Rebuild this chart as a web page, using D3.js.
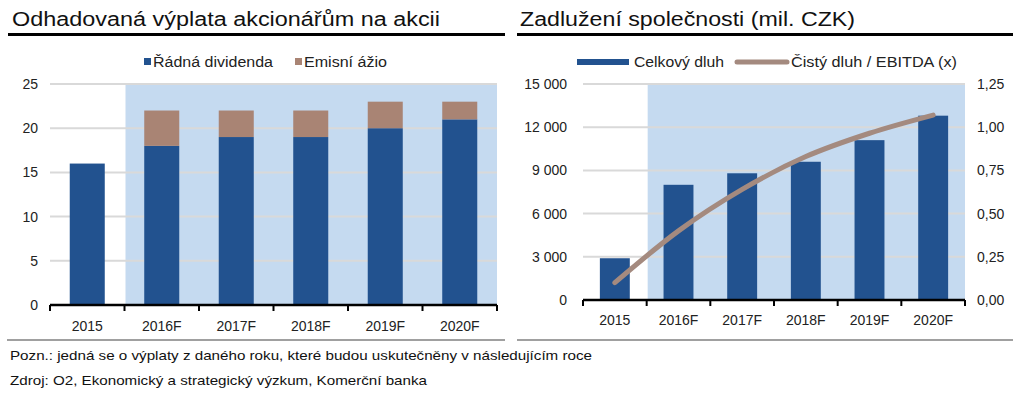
<!DOCTYPE html>
<html><head><meta charset="utf-8">
<script src="https://cdn.jsdelivr.net/npm/d3@7"></script>
<style>
html,body{margin:0;padding:0;background:#fff;}
svg{display:block;font-family:"Liberation Sans",Arial,sans-serif;}
</style></head><body>
<svg id="c" width="1024" height="399"></svg>
<script>
// ---- data ----
const categories = ["2015","2016F","2017F","2018F","2019F","2020F"];
const dividend = [16, 18, 19, 19, 20, 21];
const premium  = [0, 4, 3, 3, 3, 2];
const leftTicks = [0,5,10,15,20,25];
const debt = [2900, 8000, 8800, 9600, 11100, 12800];
const ratio = [0.10, 0.40, 0.64, 0.83, 0.965, 1.07];
const debtTicks = [0,3000,6000,9000,12000,15000];
const ratioTicks = [0,0.25,0.5,0.75,1.0,1.25];

const BLUE="#22528f", BROWN="#a98474", LINE="#a48a7f", SHADE="#c5daf0", GRID="#d9d9d9";
const svg = d3.select("#c");

// titles & rules
svg.append("text").attr("x",12).attr("y",26).attr("font-size",20).attr("fill","#111")
  .attr("textLength",428).attr("lengthAdjust","spacingAndGlyphs")
  .text("Odhadovaná výplata akcionářům na akcii");
svg.append("text").attr("x",520).attr("y",26).attr("font-size",20).attr("fill","#111")
  .attr("textLength",335).attr("lengthAdjust","spacingAndGlyphs")
  .text("Zadlužení společnosti (mil. CZK)");
svg.append("rect").attr("x",8).attr("y",33).attr("width",497).attr("height",3).attr("fill","#000");
svg.append("rect").attr("x",517).attr("y",33).attr("width",496).attr("height",3).attr("fill","#000");
svg.append("rect").attr("x",7).attr("y",339).attr("width",498).attr("height",2).attr("fill","#a0a0a0");
svg.append("rect").attr("x",517).attr("y",339).attr("width",496).attr("height",2).attr("fill","#a0a0a0");

// footer
svg.append("text").attr("x",10).attr("y",360).attr("font-size",13).attr("fill","#111")
  .attr("textLength",582).attr("lengthAdjust","spacingAndGlyphs")
  .text("Pozn.: jedná se o výplaty z daného roku, které budou uskutečněny v následujícím roce");
svg.append("text").attr("x",10).attr("y",385).attr("font-size",13).attr("fill","#111")
  .attr("textLength",417).attr("lengthAdjust","spacingAndGlyphs")
  .text("Zdroj: O2, Ekonomický a strategický výzkum, Komerční banka");

function drawAxisX(g, x, y0, labelY){
  const ax = g.append("g");
  ax.append("line").attr("x1",x.range()[0]).attr("x2",x.range()[1]).attr("y1",y0).attr("y2",y0)
    .attr("stroke","#000").attr("stroke-width",2.5);
  const bounds = categories.map(c=>x(c)).concat([x.range()[1]]);
  ax.selectAll("line.t").data(bounds).join("line").attr("class","t")
    .attr("x1",d=>d).attr("x2",d=>d).attr("y1",y0).attr("y2",y0+6)
    .attr("stroke","#000").attr("stroke-width",2);
  ax.selectAll("text").data(categories).join("text")
    .attr("x",d=>x(d)+x.bandwidth()/2).attr("y",labelY).attr("text-anchor","middle")
    .attr("font-size",14).attr("fill","#222").text(d=>d);
}

// ---- left chart ----
{
  const g = svg.append("g");
  const x = d3.scaleBand().domain(categories).range([50,497]).paddingInner(0).paddingOuter(0);
  const y = d3.scaleLinear().domain([0,25]).range([305,84]);
  g.append("rect").attr("x",x("2016F")+1).attr("y",y(25)).attr("width",x.range()[1]-x("2016F")-1)
    .attr("height",y(0)-y(25)).attr("fill",SHADE);
  g.selectAll("line.g").data(leftTicks.filter(d=>d>0)).join("line").attr("class","g")
    .attr("x1",50).attr("x2",497).attr("y1",d=>y(d)).attr("y2",d=>y(d))
    .attr("stroke",GRID).attr("stroke-width",2);
  g.selectAll("text.yl").data(leftTicks).join("text").attr("class","yl")
    .attr("x",38).attr("y",d=>y(d)+5).attr("text-anchor","end").attr("font-size",14).attr("fill","#222")
    .text(d=>d);
  const bw = x.bandwidth()*0.47;
  const off = (x.bandwidth()-bw)/2;
  g.selectAll("rect.d").data(categories).join("rect").attr("class","d")
    .attr("x",d=>x(d)+off).attr("width",bw)
    .attr("y",(d,i)=>y(dividend[i])).attr("height",(d,i)=>y(0)-y(dividend[i])).attr("fill",BLUE);
  g.selectAll("rect.p").data(categories).join("rect").attr("class","p")
    .attr("x",d=>x(d)+off).attr("width",bw)
    .attr("y",(d,i)=>y(dividend[i]+premium[i])).attr("height",(d,i)=>y(dividend[i])-y(dividend[i]+premium[i]))
    .attr("fill",BROWN);
  drawAxisX(g, x, 305, 331);
  // legend
  g.append("rect").attr("x",144).attr("y",58).attr("width",7).attr("height",7).attr("fill",BLUE);
  g.append("text").attr("x",153).attr("y",67).attr("font-size",14).attr("fill","#222")
    .attr("textLength",120).attr("lengthAdjust","spacingAndGlyphs").text("Řádná dividenda");
  g.append("rect").attr("x",295).attr("y",58).attr("width",7).attr("height",7).attr("fill",BROWN);
  g.append("text").attr("x",304).attr("y",67).attr("font-size",14).attr("fill","#222")
    .attr("textLength",83).attr("lengthAdjust","spacingAndGlyphs").text("Emisní ážio");
}

// ---- right chart ----
{
  const g = svg.append("g");
  const x = d3.scaleBand().domain(categories).range([583,965]).paddingInner(0).paddingOuter(0);
  const y = d3.scaleLinear().domain([0,15000]).range([300,84]);
  const y2 = d3.scaleLinear().domain([0,1.25]).range([300,84]);
  g.append("rect").attr("x",x("2016F")+1).attr("y",y(15000)).attr("width",x.range()[1]-x("2016F")-1)
    .attr("height",y(0)-y(15000)).attr("fill",SHADE);
  g.selectAll("line.g").data(debtTicks.filter(d=>d>0)).join("line").attr("class","g")
    .attr("x1",583).attr("x2",965).attr("y1",d=>y(d)).attr("y2",d=>y(d))
    .attr("stroke",GRID).attr("stroke-width",2);
  const fmt = d => d3.format(",")(d).replace(/,/g," ");
  g.selectAll("text.yl").data(debtTicks).join("text").attr("class","yl")
    .attr("x",567).attr("y",d=>y(d)+5).attr("text-anchor","end").attr("font-size",14).attr("fill","#222")
    .text(fmt);
  g.selectAll("text.yr").data(ratioTicks).join("text").attr("class","yr")
    .attr("x",977).attr("y",d=>y2(d)+5).attr("text-anchor","start").attr("font-size",14).attr("fill","#222")
    .text(d=>d3.format(".2f")(d).replace(".",","));
  const bw = x.bandwidth()*0.47;
  const off = (x.bandwidth()-bw)/2;
  g.selectAll("rect.d").data(categories).join("rect").attr("class","d")
    .attr("x",d=>x(d)+off).attr("width",bw)
    .attr("y",(d,i)=>y(debt[i])).attr("height",(d,i)=>y(0)-y(debt[i])).attr("fill",BLUE);
  drawAxisX(g, x, 300, 325);
  const line = d3.line().x((d,i)=>x(categories[i])+x.bandwidth()/2).y(d=>y2(d)).curve(d3.curveMonotoneX);
  g.append("path").datum(ratio).attr("d",line).attr("fill","none").attr("stroke",LINE)
    .attr("stroke-width",5).attr("stroke-linecap","round");
  // legend
  g.append("rect").attr("x",577).attr("y",59).attr("width",52).attr("height",6).attr("fill",BLUE);
  g.append("text").attr("x",634).attr("y",67).attr("font-size",14).attr("fill","#222")
    .attr("textLength",90).attr("lengthAdjust","spacingAndGlyphs").text("Celkový dluh");
  g.append("line").attr("x1",737).attr("x2",787).attr("y1",62).attr("y2",62).attr("stroke",LINE)
    .attr("stroke-width",5).attr("stroke-linecap","round");
  g.append("text").attr("x",791).attr("y",67).attr("font-size",14).attr("fill","#222")
    .attr("textLength",166).attr("lengthAdjust","spacingAndGlyphs").text("Čistý dluh / EBITDA (x)");
}
</script>
</body></html>
